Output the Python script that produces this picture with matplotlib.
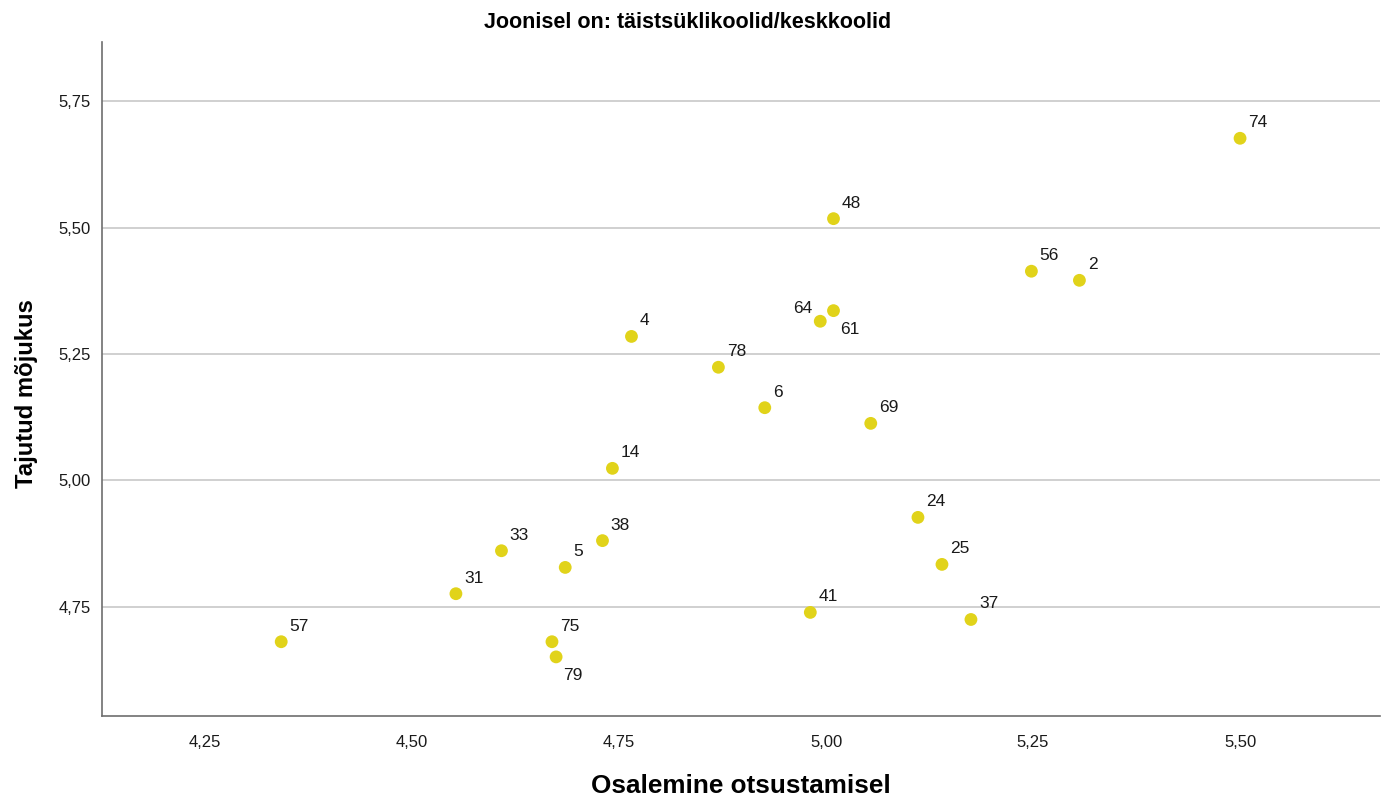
import numpy as np
import matplotlib.pyplot as plt

plt.rcParams['font.family'] = ['Liberation Sans', 'DejaVu Sans']

# school ids and their scores
school_ids = ['74', '48', '56', '2', '64', '61', '4', '78', '6', '69', '14', '24',
              '33', '38', '5', '25', '31', '41', '37', '57', '75', '79']
osalemine = [5.500, 5.009, 5.248, 5.306, 5.009, 4.993, 4.765, 4.870, 4.926, 5.054, 4.742, 5.111,
             4.608, 4.730, 4.685, 5.140, 4.553, 4.981, 5.175, 4.342, 4.669, 4.674]
mojukus = [5.677, 5.518, 5.414, 5.396, 5.336, 5.315, 5.285, 5.224, 5.144, 5.113, 5.024, 4.927,
           4.861, 4.881, 4.828, 4.834, 4.776, 4.739, 4.725, 4.681, 4.681, 4.651]

x_ticks = [4.25, 4.50, 4.75, 5.00, 5.25, 5.50]
y_ticks = [4.75, 5.00, 5.25, 5.50, 5.75]

# label placement (offset in points) for crowded points
label_offsets = {'64': (-29, -2), '61': (14, -9), '79': (5, -17)}


def plotFigure():
    fig = plt.figure(figsize=(13.9, 7.97), dpi=100)
    ax = fig.add_axes([0.0734, 0.1016, 0.9194, 0.8454])

    ax.scatter(osalemine, mojukus, s=85, color='#E1D31A', edgecolors='none', zorder=3)
    for sid, xv, yv in zip(school_ids, osalemine, mojukus):
        off = label_offsets.get(sid, (6, 8))
        ax.annotate(sid, (xv, yv), xytext=off, textcoords='offset points',
                    fontsize=12.5, color='#1a1a1a')

    ax.set_xlim(4.1256, 5.669)
    ax.set_ylim(4.534, 5.867)
    ax.set_xticks(x_ticks)
    ax.set_yticks(y_ticks)
    ax.set_xticklabels([f'{v:.2f}'.replace('.', ',') for v in x_ticks])
    ax.set_yticklabels([f'{v:.2f}'.replace('.', ',') for v in y_ticks])
    ax.tick_params(length=0, labelsize=12, colors='#1a1a1a')
    ax.tick_params(axis='y', pad=8)
    ax.tick_params(axis='x', pad=14)

    ax.yaxis.grid(True, color='#c8c8c8', linewidth=1.2)
    ax.set_axisbelow(True)
    for side in ['top', 'right']:
        ax.spines[side].set_visible(False)
    for side in ['left', 'bottom']:
        ax.spines[side].set_color('#6e6e6e')
        ax.spines[side].set_linewidth(1.2)

    ax.set_xlabel('Osalemine otsustamisel', fontsize=18.8, fontweight='bold')
    ax.set_ylabel('Tajutud mõjukus', fontsize=17.2, fontweight='bold')
    ax.xaxis.set_label_coords(0.5, -0.104)
    ax.yaxis.set_label_coords(-0.059, 0.478)
    ax.xaxis.label.set_va('center')
    ax.yaxis.label.set_va('center')
    fig.text(0.495, 1 - 22 / 797, 'Joonisel on: täistsüklikoolid/keskkoolid',
             fontsize=15.5, fontweight='bold', ha='center', va='center')

    plt.savefig('out.png', dpi=100)


plotFigure()
